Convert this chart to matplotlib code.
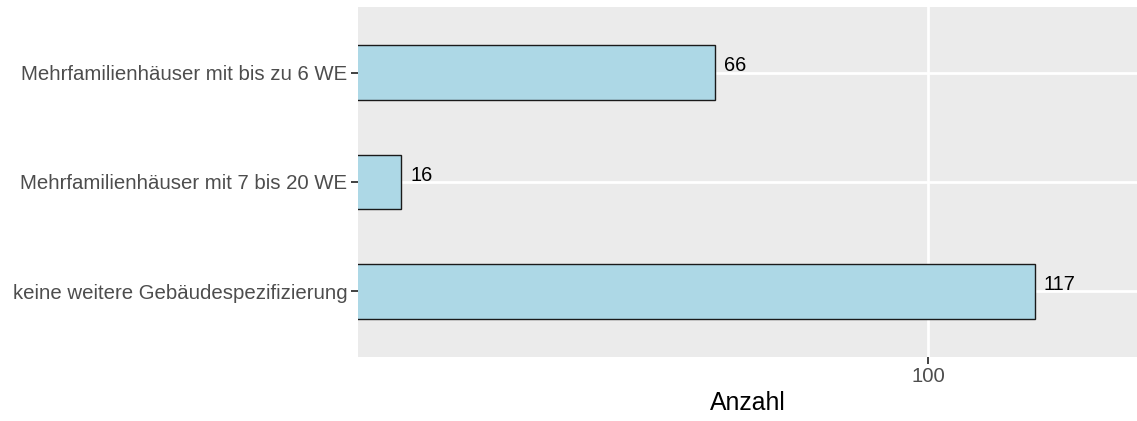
import matplotlib
matplotlib.use('Agg')
import matplotlib.pyplot as plt

plt.rcParams['font.family'] = ['Liberation Sans', 'DejaVu Sans']

categories = ['keine weitere Gebäudespezifizierung',
              'Mehrfamilienhäuser mit 7 bis 20 WE',
              'Mehrfamilienhäuser mit bis zu 6 WE']
counts = [117, 16, 66]
x_ticks = [100]

fig = plt.figure(figsize=(11.37, 4.21), dpi=100)
ax = fig.add_axes([0.3149, 0.152, 0.6851, 0.8314])
ax.set_facecolor('#EBEBEB')

ypos = list(range(1, len(categories) + 1))
ax.barh(ypos, counts, height=0.5, color='#ADD8E6', edgecolor='#1a1a1a',
        linewidth=1.0, zorder=3)

for y, v in zip(ypos, counts):
    ax.annotate(str(v), xy=(v, y), xytext=(6.5, 1), textcoords='offset points',
                ha='left', va='baseline', fontsize=14.4, color='black', zorder=4)

ax.set_xlim(9.1, 133.3)
ax.set_ylim(0.4, 3.6)
ax.set_xticks(x_ticks)
ax.set_xticklabels([str(t) for t in x_ticks])
ax.set_yticks(ypos)
ax.set_yticklabels(categories)

ax.grid(True, color='white', linewidth=2.0, zorder=0)
ax.set_axisbelow(True)
for s in ax.spines.values():
    s.set_visible(False)

ax.tick_params(axis='both', colors='#333333', length=5, width=1.3,
               labelsize=14.7, labelcolor='#4D4D4D', pad=2.5)
ax.set_xlabel('Anzahl', fontsize=17.8, color='black', labelpad=3)

fig.savefig('out.png', dpi=100)
